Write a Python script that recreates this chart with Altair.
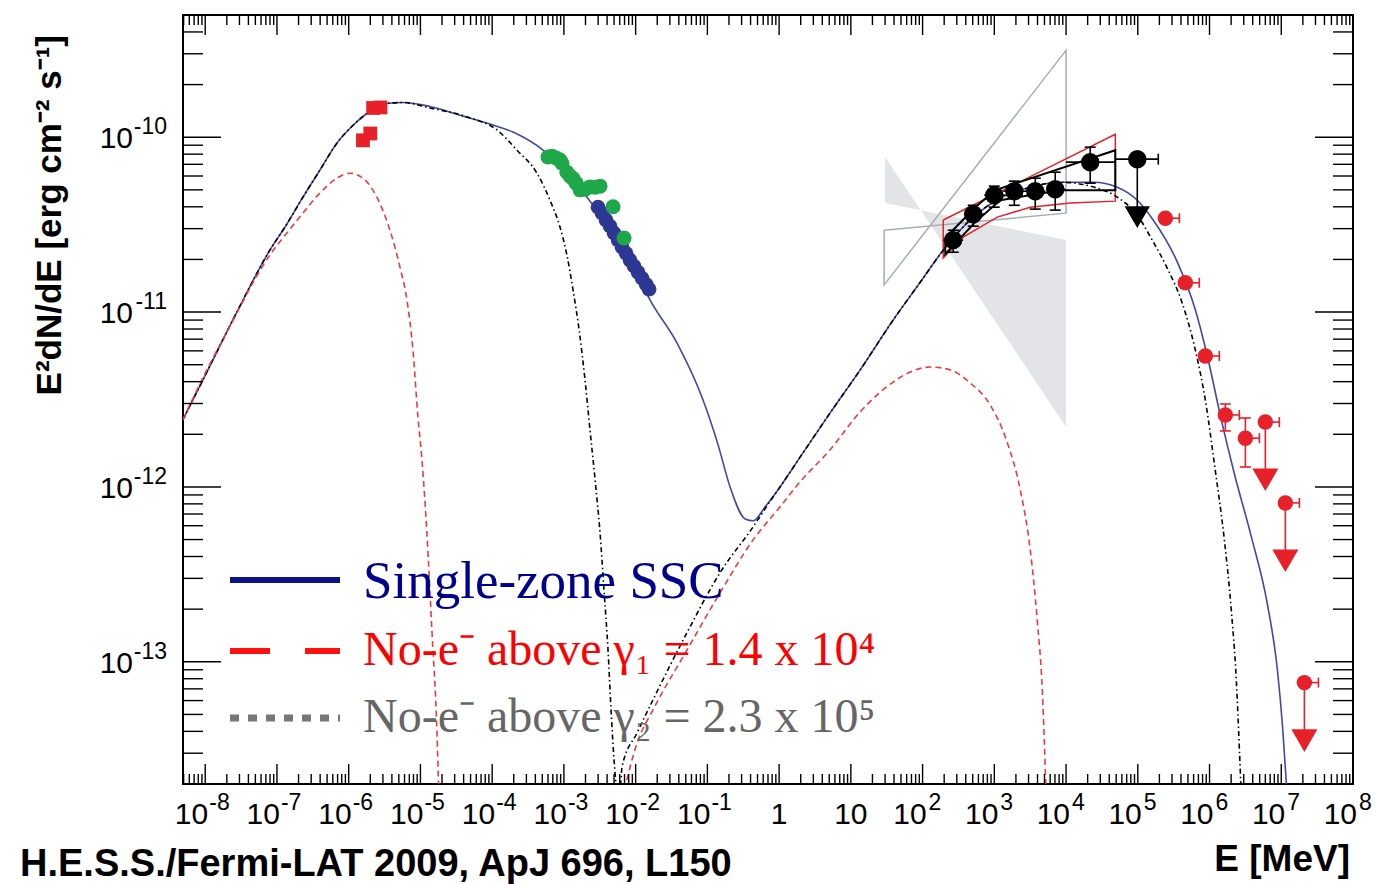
import altair as alt
import pandas as pd

W, H = 1170, 769
X_DOMAIN = [4.9e-9, 1.0e8]
Y_DOMAIN = [2.0e-14, 5.0e-10]
SANS = "Liberation Sans, Arial, Helvetica, sans-serif"
SERIF = "Liberation Serif, Times New Roman, serif"

# ---------------- model curves ----------------
ssc_e = [4.87e-9, 9.27e-9, 2.76e-8, 7.96e-8, 1.37e-7, 2.30e-7, 3.96e-7, 6.84e-7, 1.15e-6, 1.68e-6,
         3.41e-6, 5.70e-6, 1.36e-5, 3.92e-5, 9.31e-5, 1.95e-4, 5.11e-4, 1.04e-3, 2.10e-3, 3.74e-3,
         6.05e-3, 9.81e-3, 1.59e-2, 3.78e-2, 8.71e-2, 0.141, 0.207, 0.336, 0.434, 0.638,
         1.03, 1.96, 5.14, 13.5, 38.9, 92.6, 194, 508, 1.21e3, 2.88e3,
         8.30e3, 2.39e4, 5.17e4, 9.84e4, 1.64e5, 3.56e5, 6.34e5, 9.31e5, 1.46e6, 2.22e6,
         3.83e6, 6.40e6, 8.83e6, 1.04e7, 1.22e7]
ssc_f = [2.42e-12, 4.09e-12, 1.0e-11, 2.26e-11, 3.18e-11, 4.54e-11, 6.47e-11, 9.24e-11, 1.17e-10, 1.34e-10,
         1.56e-10, 1.58e-10, 1.50e-10, 1.32e-10, 1.19e-10, 1.07e-10, 8.43e-11, 6.31e-11, 4.54e-11, 3.27e-11,
         2.42e-11, 1.74e-11, 1.17e-11, 6.65e-12, 3.14e-12, 1.74e-12, 1.0e-12, 6.56e-13, 6.40e-13, 7.69e-13,
         1.0e-12, 1.48e-12, 2.65e-12, 4.67e-12, 9.0e-12, 1.48e-11, 2.26e-11, 3.49e-11, 4.48e-11, 5.12e-11,
         5.53e-11, 5.53e-11, 5.18e-11, 4.36e-11, 3.36e-11, 1.93e-11, 1.03e-11, 5.61e-12, 2.42e-12, 1.19e-12,
         5.18e-13, 2.14e-13, 9.0e-14, 4.31e-14, 1.63e-14]

gam2_e = [4.87e-9, 9.27e-9, 2.76e-8, 7.96e-8, 1.37e-7, 2.30e-7, 3.96e-7, 6.84e-7, 1.15e-6, 1.68e-6,
          3.41e-6, 5.70e-6, 1.36e-5, 4.90e-5, 1.17e-4, 2.22e-4, 4.22e-4, 6.40e-4, 8.83e-4, 1.10e-3,
          1.34e-3, 1.63e-3, 1.97e-3, 2.31e-3, 2.72e-3, 3.19e-3, 3.62e-3, 4.12e-3, 4.54e-3, 5.00e-3,
          5.50e-3, 6.05e-3, 6.46e-3, 1.05e-2, 1.75e-2, 5.21e-2, 0.150, 0.434, 0.824, 1.03,
          1.96, 5.14, 13.5, 38.9, 92.6, 194, 508, 1.21e3, 2.88e3, 8.30e3,
          2.17e4, 5.17e4, 9.84e4, 1.59e5, 2.58e5, 4.18e5, 6.34e5, 8.74e5, 1.20e6, 1.61e6,
          2.01e6, 2.36e6, 2.61e6, 2.78e6]
gam2_f = [2.42e-12, 4.09e-12, 1.0e-11, 2.26e-11, 3.18e-11, 4.54e-11, 6.47e-11, 9.24e-11, 1.17e-10, 1.34e-10,
          1.56e-10, 1.58e-10, 1.47e-10, 1.29e-10, 1.10e-10, 8.43e-11, 6.22e-11, 4.36e-11, 3.06e-11, 2.12e-11,
          1.34e-11, 7.89e-12, 4.09e-12, 2.12e-12, 1.10e-12, 5.46e-13, 2.58e-13, 1.17e-13, 5.32e-14, 2.75e-14,
          1.86e-14, 1.86e-14, 2.51e-14, 3.93e-14, 6.07e-14, 1.47e-13, 3.23e-13, 5.91e-13, 8.77e-13, 1.0e-12,
          1.48e-12, 2.65e-12, 4.67e-12, 9.0e-12, 1.48e-11, 2.26e-11, 3.49e-11, 4.48e-11, 5.12e-11, 5.53e-11,
          5.25e-11, 4.54e-11, 3.58e-11, 2.58e-11, 1.78e-11, 1.12e-11, 6.07e-12, 3.14e-12, 1.25e-12, 4.98e-13,
          1.98e-13, 7.89e-14, 3.14e-14, 1.63e-14]

gam1_sync_e = [4.87e-9, 9.27e-9, 2.76e-8, 4.61e-8, 7.96e-8, 1.37e-7, 2.30e-7, 3.96e-7, 6.84e-7, 1.04e-6,
               1.58e-6, 2.47e-6, 3.76e-6, 5.18e-6, 6.49e-6, 7.86e-6, 9.23e-6, 1.05e-5, 1.23e-5, 1.45e-5,
               1.70e-5, 1.81e-5]
gam1_sync_f = [2.42e-12, 4.20e-12, 9.86e-12, 1.47e-11, 2.12e-11, 2.83e-11, 3.68e-11, 4.79e-11, 5.83e-11, 6.22e-11,
               5.83e-11, 4.54e-11, 2.94e-11, 1.81e-11, 1.17e-11, 6.07e-12, 2.51e-12, 1.43e-12, 5.46e-13, 1.47e-13,
               3.93e-14, 1.63e-14]
gam1_ic_e = [6.46e-3, 1.05e-2, 1.75e-2, 5.21e-2, 0.150, 0.434, 1.03, 1.96, 5.14, 13.5,
             38.9, 67.1, 128, 243, 461, 877, 1.47e3, 2.30e3, 3.17e3, 3.96e3,
             4.66e3, 5.30e3]
gam1_ic_f = [1.63e-14, 3.44e-14, 5.32e-14, 1.17e-13, 2.48e-13, 4.98e-13, 7.69e-13, 1.07e-12, 1.63e-12, 2.69e-12,
             3.98e-12, 4.54e-12, 4.85e-12, 4.67e-12, 3.93e-12, 2.94e-12, 1.86e-12, 9.61e-13, 4.36e-13, 1.74e-13,
             6.92e-14, 1.63e-14]

# ---------------- data points ----------------
opt_e = [1.58e-6, 2.0e-6, 2.19e-6, 2.77e-6]
opt_f = [9.6e-11, 1.05e-10, 1.47e-10, 1.48e-10]

xrt_e = [6.0e-4, 6.82e-4, 7.8e-4, 8.83e-4, 9.4e-4, 1.10e-3, 1.22e-3, 1.34e-3, 1.48e-3, 1.68e-3,
         1.97e-3, 2.31e-3, 2.72e-3, 3.19e-3, 4.84e-3, 6.9e-3]
xrt_f = [7.7e-11, 7.79e-11, 7.6e-11, 7.40e-11, 7.1e-11, 6.3e-11, 5.99e-11, 5.8e-11, 5.46e-11, 5.0e-11,
         5.04e-11, 5.2e-11, 5.18e-11, 5.25e-11, 4.0e-11, 2.65e-11]

rxte_e = [2.99e-3, 3.40e-3, 3.86e-3, 4.40e-3, 5.00e-3, 5.69e-3, 6.46e-3, 7.35e-3, 8.36e-3, 9.51e-3,
          1.08e-2, 1.23e-2, 1.40e-2, 1.54e-2]
rxte_f = [3.98e-11, 3.68e-11, 3.36e-11, 3.10e-11, 2.83e-11, 2.58e-11, 2.35e-11, 2.17e-11, 1.98e-11, 1.83e-11,
          1.69e-11, 1.56e-11, 1.44e-11, 1.35e-11]

lat_e = [267, 508, 998, 1.90e3, 3.72e3, 7.06e3, 2.17e4]
lat_f = [2.58e-11, 3.63e-11, 4.66e-11, 4.91e-11, 4.91e-11, 5.04e-11, 7.2e-11]
lat_f_lo = [2.20e-11, 3.10e-11, 3.98e-11, 4.08e-11, 3.88e-11, 3.83e-11, 5.46e-11]
lat_f_hi = [2.94e-11, 4.08e-11, 5.25e-11, 5.61e-11, 5.83e-11, 6.31e-11, 8.77e-11]
lat_e_lo = [194, 380, 723, 1.33e3, 2.70e3, 5.47e3, 1.0e4]
lat_e_hi = [368, 723, 1.42e3, 2.88e3, 5.13e3, 9.75e3, 4.85e4]

lat_ul_e = [9.84e4]
lat_ul_f = [7.49e-11]
lat_ul_e_lo = [4.85e4]
lat_ul_e_hi = [1.93e5]
lat_ul_arrow_f = [3.49e-11]

hess_e = [2.42e5, 4.60e5, 8.74e5, 1.66e6, 3.16e6]
hess_f = [3.44e-11, 1.47e-11, 5.61e-12, 2.58e-12, 1.90e-12]
hess_e_hi = [3.8e5, 7.2e5, 1.37e6, 2.6e6, 4.95e6]
hess_f_lo = [3.30e-11, 1.40e-11, 5.35e-12, 2.09e-12, 1.30e-12]
hess_f_hi = [3.58e-11, 1.54e-11, 5.88e-12, 2.98e-12, 2.48e-12]

hess_ul_e = [6.0e6, 1.14e7, 2.10e7]
hess_ul_f = [2.35e-12, 8.1e-13, 7.6e-14]
hess_ul_e_hi = [9.4e6, 1.79e7, 3.3e7]
hess_ul_arrow_f = [1.10e-12, 3.78e-13, 3.54e-14]

# ---------------- butterflies / bow-ties ----------------
lat_bt_e = [207, 542, 1.03e3, 4.86e4, 4.86e4, 8.3e3, 1.21e3, 542, 207, 207]
lat_bt_f = [2.65e-11, 3.98e-11, 4.98e-11, 8.43e-11, 4.98e-11, 4.98e-11, 4.36e-11, 3.27e-11, 2.14e-11, 2.65e-11]

red_bt_e = [194, 4.86e4, 4.86e4, 1.15e4, 3.17e3, 1.10e3, 368, 194, 194]
red_bt_f = [3.36e-11, 1.04e-10, 4.31e-11, 4.20e-11, 3.98e-11, 3.49e-11, 2.68e-11, 2.04e-11, 3.36e-11]

egret_e = [29.1, 1.0e4, 1.0e4, 29.1, 29.1]
egret_f = [2.94e-11, 3.68e-11, 3.14e-10, 1.43e-11, 2.94e-11]

grey_fill_e = [30.1, 1.0e4]
grey_fill_f_a = [7.69e-11, 2.20e-12]
grey_fill_f_b = [4.20e-11, 2.58e-11]

# ---------------- axes text ----------------
x_tick_vals = [1e-8, 1e-7, 1e-6, 1e-5, 1e-4, 1e-3, 1e-2, 1e-1, 1, 10,
               1e2, 1e3, 1e4, 1e5, 1e6, 1e7, 1e8]
x_tick_base = ["10", "10", "10", "10", "10", "10", "10", "10", "1", "10",
               "10", "10", "10", "10", "10", "10", "10"]
x_tick_sup = ["-8", "-7", "-6", "-5", "-4", "-3", "-2", "-1", "", "",
              "2", "3", "4", "5", "6", "7", "8"]
y_tick_vals = [1e-13, 1e-12, 1e-11, 1e-10]
y_tick_base = ["10", "10", "10", "10"]
y_tick_sup = ["-13", "-12", "-11", "-10"]
y_title = "E²dN/dE [erg cm⁻² s⁻¹]"
x_title = "E [MeV]"
footer = "H.E.S.S./Fermi-LAT 2009, ApJ 696, L150"
legend_labels = ["Single-zone SSC", "No-e⁻ above γ₁ = 1.4 x 10⁴", "No-e⁻ above γ₂ = 2.3 x 10⁵"]

x_major = x_tick_vals
x_minor = [m * 10.0 ** k for k in range(-9, 8) for m in range(2, 10)
           if X_DOMAIN[0] <= m * 10.0 ** k <= X_DOMAIN[1]]
y_major = y_tick_vals
y_minor = [m * 10.0 ** k for k in range(-14, -9) for m in range(2, 10)
           if Y_DOMAIN[0] <= m * 10.0 ** k < Y_DOMAIN[1]]

xs = alt.Scale(type="log", domain=X_DOMAIN, nice=False)
ys = alt.Scale(type="log", domain=Y_DOMAIN, nice=False)


def X(field):
    return alt.X(field, type="quantitative", scale=xs, axis=None)


def Y(field):
    return alt.Y(field, type="quantitative", scale=ys, axis=None)


def path_df(e, f):
    return pd.DataFrame({"E": e, "F": f, "i": list(range(len(e)))})


def pts_df(e, f):
    return pd.DataFrame({"E": e, "F": f})


layers = []

# grey filled bow-tie
fill_df = pd.DataFrame({"E": grey_fill_e, "Fa": grey_fill_f_a, "Fb": grey_fill_f_b})
layers.append(alt.Chart(fill_df).mark_area(color="#e3e4e8", opacity=1, clip=True).encode(
    x=X("E"), y=Y("Fa"), y2=alt.Y2("Fb")))

# grey outline bow-tie
layers.append(alt.Chart(path_df(egret_e, egret_f)).mark_line(
    color="#a9adb3", strokeWidth=1.5, clip=True).encode(x=X("E"), y=Y("F"), order="i:Q"))

# red butterfly
layers.append(alt.Chart(path_df(red_bt_e, red_bt_f)).mark_line(
    color="#e8202a", strokeWidth=1.5, clip=True).encode(x=X("E"), y=Y("F"), order="i:Q"))

# model curves
layers.append(alt.Chart(path_df(ssc_e, ssc_f)).mark_line(
    color="#4049a8", strokeWidth=1.6, clip=True, interpolate="monotone").encode(
    x=X("E"), y=Y("F"), order="i:Q"))
layers.append(alt.Chart(path_df(gam2_e, gam2_f)).mark_line(
    color="black", strokeWidth=1.6, strokeDash=[5, 3, 1.5, 3], clip=True, interpolate="monotone").encode(
    x=X("E"), y=Y("F"), order="i:Q"))
g1_df = pd.concat([path_df(gam1_sync_e, gam1_sync_f).assign(seg="sync"),
                   path_df(gam1_ic_e, gam1_ic_f).assign(seg="ic")])
layers.append(alt.Chart(g1_df).mark_line(
    color="#f03a3a", strokeWidth=1.6, strokeDash=[6, 4], clip=True, interpolate="monotone").encode(
    x=X("E"), y=Y("F"), order="i:Q", detail="seg:N"))

# black butterfly
layers.append(alt.Chart(path_df(lat_bt_e, lat_bt_f)).mark_line(
    color="black", strokeWidth=2, clip=True).encode(x=X("E"), y=Y("F"), order="i:Q"))

# optical, X-ray points
layers.append(alt.Chart(pts_df(opt_e, opt_f)).mark_point(
    shape="square", filled=True, size=190, color="#e8202a", opacity=1).encode(x=X("E"), y=Y("F")))
layers.append(alt.Chart(pts_df(rxte_e, rxte_f)).mark_point(
    shape="circle", filled=True, size=215, color="#2e3894", opacity=1).encode(x=X("E"), y=Y("F")))
layers.append(alt.Chart(pts_df(xrt_e, xrt_f)).mark_point(
    shape="circle", filled=True, size=225, color="#1fa84a", opacity=1).encode(x=X("E"), y=Y("F")))

# Fermi-LAT points
lat_df = pd.DataFrame({"E": lat_e, "F": lat_f, "Flo": lat_f_lo, "Fhi": lat_f_hi,
                       "Elo": lat_e_lo, "Ehi": lat_e_hi})
layers.append(alt.Chart(lat_df).mark_rule(color="black", strokeWidth=1.6).encode(
    x=X("E"), y=Y("Flo"), y2=alt.Y2("Fhi")))
layers.append(alt.Chart(lat_df).mark_rule(color="black", strokeWidth=1.6).encode(
    x=X("Elo"), x2=alt.X2("Ehi"), y=Y("F")))
for col in ["Flo", "Fhi"]:
    layers.append(alt.Chart(lat_df).mark_tick(orient="horizontal", size=11, thickness=1.6,
                                              color="black", opacity=1).encode(x=X("E"), y=Y(col)))
layers.append(alt.Chart(lat_df).mark_point(shape="circle", filled=True, size=340,
                                           color="black", opacity=1).encode(x=X("E"), y=Y("F")))

lat_ul_df = pd.DataFrame({"E": lat_ul_e, "F": lat_ul_f, "Elo": lat_ul_e_lo, "Ehi": lat_ul_e_hi,
                          "Fa": lat_ul_arrow_f})
layers.append(alt.Chart(lat_ul_df).mark_rule(color="black", strokeWidth=1.6).encode(
    x=X("Elo"), x2=alt.X2("Ehi"), y=Y("F")))
layers.append(alt.Chart(lat_ul_df).mark_rule(color="black", strokeWidth=1.6).encode(
    x=X("E"), y=Y("F"), y2=alt.Y2("Fa")))
layers.append(alt.Chart(lat_ul_df).mark_tick(orient="vertical", size=11, thickness=1.6,
                                             color="black", opacity=1).encode(x=X("Ehi"), y=Y("F")))
layers.append(alt.Chart(lat_ul_df).mark_point(shape="circle", filled=True, size=340,
                                              color="black", opacity=1).encode(x=X("E"), y=Y("F")))
layers.append(alt.Chart(lat_ul_df).mark_point(shape="triangle-down", filled=True, size=640,
                                              color="black", opacity=1).encode(x=X("E"), y=Y("Fa")))

# H.E.S.S. points
RED = "#e8202a"
hess_df = pd.DataFrame({"E": hess_e, "F": hess_f, "Ehi": hess_e_hi, "Flo": hess_f_lo, "Fhi": hess_f_hi})
layers.append(alt.Chart(hess_df).mark_rule(color=RED, strokeWidth=1.6).encode(
    x=X("E"), x2=alt.X2("Ehi"), y=Y("F")))
layers.append(alt.Chart(hess_df).mark_rule(color=RED, strokeWidth=1.6).encode(
    x=X("E"), y=Y("Flo"), y2=alt.Y2("Fhi")))
layers.append(alt.Chart(hess_df).mark_tick(orient="vertical", size=10, thickness=1.6,
                                           color=RED, opacity=1).encode(x=X("Ehi"), y=Y("F")))
for col in ["Flo", "Fhi"]:
    layers.append(alt.Chart(hess_df).mark_tick(orient="horizontal", size=11, thickness=1.6,
                                               color=RED, opacity=1).encode(x=X("E"), y=Y(col)))
layers.append(alt.Chart(hess_df).mark_point(shape="circle", filled=True, size=240,
                                            color=RED, opacity=1).encode(x=X("E"), y=Y("F")))

hess_ul_df = pd.DataFrame({"E": hess_ul_e, "F": hess_ul_f, "Ehi": hess_ul_e_hi, "Fa": hess_ul_arrow_f})
layers.append(alt.Chart(hess_ul_df).mark_rule(color=RED, strokeWidth=1.6).encode(
    x=X("E"), x2=alt.X2("Ehi"), y=Y("F")))
layers.append(alt.Chart(hess_ul_df).mark_rule(color=RED, strokeWidth=1.6).encode(
    x=X("E"), y=Y("F"), y2=alt.Y2("Fa")))
layers.append(alt.Chart(hess_ul_df).mark_tick(orient="vertical", size=10, thickness=1.6,
                                              color=RED, opacity=1).encode(x=X("Ehi"), y=Y("F")))
layers.append(alt.Chart(hess_ul_df).mark_point(shape="circle", filled=True, size=240,
                                               color=RED, opacity=1).encode(x=X("E"), y=Y("F")))
layers.append(alt.Chart(hess_ul_df).mark_point(shape="triangle-down", filled=True, size=680,
                                               color=RED, opacity=1).encode(x=X("E"), y=Y("Fa")))

# ---------------- frame ticks (ROOT style, inward, all four sides) ----------------
def xticks(vals, length, top):
    d = pd.DataFrame({"v": vals})
    y0, y1 = (0, length) if top else (H, H - length)
    return alt.Chart(d).mark_rule(color="black", strokeWidth=1.4).encode(
        x=X("v:Q"), y=alt.value(y0), y2=alt.value(y1))


def yticks(vals, length, right):
    d = pd.DataFrame({"v": vals})
    x0, x1 = (W, W - length) if right else (0, length)
    return alt.Chart(d).mark_rule(color="black", strokeWidth=1.4).encode(
        y=Y("v:Q"), x=alt.value(x0), x2=alt.value(x1))


layers.append(xticks(x_major, 20, False))
layers.append(xticks(x_minor, 10, False))
layers.append(xticks(x_major, 20, True))
layers.append(xticks(x_minor, 10, True))
layers.append(yticks(y_major, 38, False))
layers.append(yticks(y_minor, 20, False))
layers.append(yticks(y_major, 38, True))
layers.append(yticks(y_minor, 20, True))

# ---------------- tick labels (positioned through the scales) ----------------
xl = pd.DataFrame({"v": x_tick_vals, "base": x_tick_base, "sup": x_tick_sup})
xl_neg = xl[xl["sup"].str.startswith("-")]
xl_pos = xl[(xl["sup"] != "") & ~xl["sup"].str.startswith("-")]
xl_plain = xl[xl["sup"] == ""]
LBL_Y = H + 31
for d, off_b, off_s in [(xl_neg, 3, 4), (xl_pos, 4, 6)]:
    layers.append(alt.Chart(d).mark_text(font=SANS, fontSize=30, color="black", align="right",
                                         baseline="middle", dx=off_b).encode(
        x=X("v:Q"), y=alt.value(LBL_Y), text="base:N"))
    layers.append(alt.Chart(d).mark_text(font=SANS, fontSize=23, color="black", align="left",
                                         baseline="middle", dx=off_s).encode(
        x=X("v:Q"), y=alt.value(LBL_Y - 12), text="sup:N"))
layers.append(alt.Chart(xl_plain).mark_text(font=SANS, fontSize=30, color="black", align="center",
                                            baseline="middle").encode(
    x=X("v:Q"), y=alt.value(LBL_Y), text="base:N"))

yl = pd.DataFrame({"v": y_tick_vals, "base": y_tick_base, "sup": y_tick_sup})
layers.append(alt.Chart(yl).mark_text(font=SANS, fontSize=30, color="black", align="right",
                                      baseline="middle", dy=2).encode(
    y=Y("v:Q"), x=alt.value(-50), text="base:N"))
layers.append(alt.Chart(yl).mark_text(font=SANS, fontSize=23, color="black", align="right",
                                      baseline="middle", dy=-10).encode(
    y=Y("v:Q"), x=alt.value(-16), text="sup:N"))

# ---------------- legend ----------------
one = pd.DataFrame({"k": [0]})
layers.append(alt.Chart(one).mark_rule(color="#0a1285", strokeWidth=6).encode(
    x=alt.value(47), x2=alt.value(157), y=alt.value(565)))
layers.append(alt.Chart(one).mark_rule(color="#ff1010", strokeWidth=6, strokeDash=[40, 35]).encode(
    x=alt.value(47), x2=alt.value(157), y=alt.value(636)))
layers.append(alt.Chart(one).mark_rule(color="#777777", strokeWidth=7, strokeDash=[9, 9]).encode(
    x=alt.value(47), x2=alt.value(157), y=alt.value(703)))

leg_colors = ["#00008f", "#ff0000", "#666666"]
leg_sizes = [53, 48, 48]
leg_y = [567, 636, 703]
for txt, col, sz, yy in zip(legend_labels, leg_colors, leg_sizes, leg_y):
    layers.append(alt.Chart(pd.DataFrame({"t": [txt]})).mark_text(
        font=SERIF, fontSize=sz, color=col, align="left", baseline="middle").encode(
        text="t:N", x=alt.value(180), y=alt.value(yy)))

# ---------------- titles ----------------
layers.append(alt.Chart(pd.DataFrame({"t": [y_title]})).mark_text(
    font=SANS, fontSize=35, fontWeight="bold", color="black", angle=270,
    align="right", baseline="middle").encode(text="t:N", x=alt.value(-133), y=alt.value(20)))
layers.append(alt.Chart(pd.DataFrame({"t": [x_title]})).mark_text(
    font=SANS, fontSize=37, fontWeight="bold", color="black",
    align="right", baseline="alphabetic").encode(text="t:N", x=alt.value(1167), y=alt.value(856)))
layers.append(alt.Chart(pd.DataFrame({"t": [footer]})).mark_text(
    font=SANS, fontSize=38, fontWeight="bold", color="black",
    align="left", baseline="alphabetic").encode(text="t:N", x=alt.value(-163), y=alt.value(861)))

chart = alt.layer(*layers).properties(
    width=W, height=H,
    padding={"left": 175, "top": 7, "right": 30, "bottom": 101},
    autosize=alt.AutoSizeParams(type="none"),
    background="white",
).configure_view(stroke="black", strokeWidth=2, fill="white")

chart.save("out.html", embed_options={"renderer": "svg", "actions": False})
